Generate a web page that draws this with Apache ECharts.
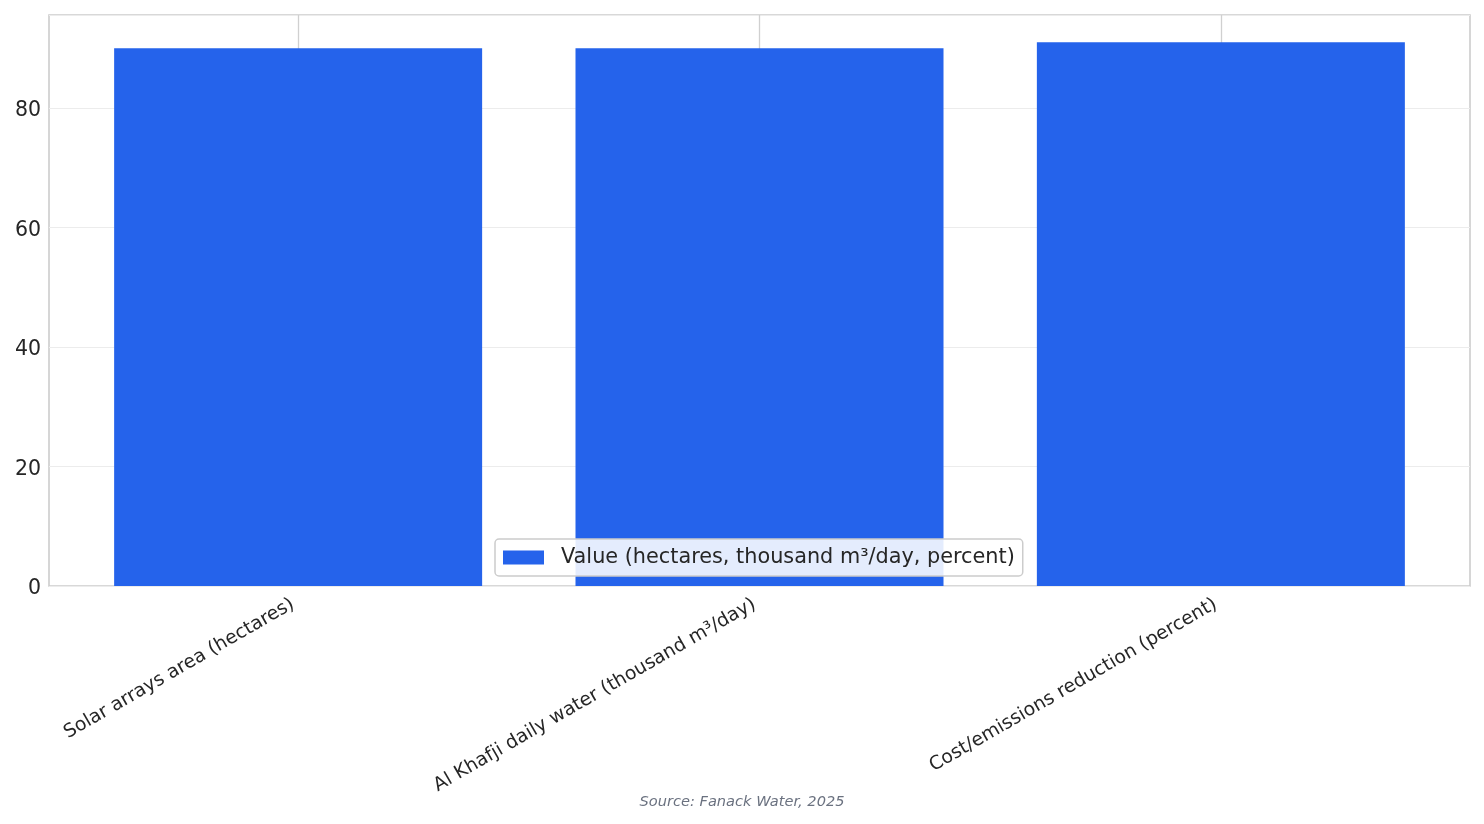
<!DOCTYPE html>
<html>
<head>
<meta charset="utf-8">
<script src="https://cdn.jsdelivr.net/npm/echarts@6/dist/echarts.min.js"></script>
<style>
html,body{margin:0;padding:0;background:#fff;}
#chart{width:1484px;height:824px;}
</style>
</head>
<body>
<div id="chart"></div>
<script>
const categories = [
  'Solar arrays area (hectares)',
  'Al Khafji daily water (thousand m³/day)',
  'Cost/emissions reduction (percent)'
];
const values = [90, 90, 91];
const seriesName = 'Value (hectares, thousand m³/day, percent)';
const yTicks = [0, 20, 40, 60, 80];
const sourceText = 'Source: Fanack Water, 2025';

const positions = categories.map((c, i) => i);
const yMax = Math.max(...values) * 1.05;

const chart = echarts.init(document.getElementById('chart'));
const font = 'DejaVu Sans';
chart.setOption({
  animation: false,
  backgroundColor: '#fff',
  textStyle: { fontFamily: font },
  grid: {
    left: 49, top: 15, width: 1421, height: 571,
    show: true, borderColor: '#cccccc', borderWidth: 1.6, backgroundColor: 'transparent'
  },
  xAxis: {
    type: 'value',
    min: -0.54, max: 2.54,
    axisLine: { show: false },
    axisTick: { show: false, customValues: positions },
    splitLine: { show: true, lineStyle: { color: '#d0d0d0', width: 1.3 } },
    axisLabel: {
      customValues: positions,
      rotate: 30,
      margin: 14,
      padding: [0, 6, 0, 0],
      fontSize: 18.8,
      color: '#262626',
      fontFamily: font,
      formatter: v => categories[Math.round(v)]
    }
  },
  yAxis: {
    type: 'value',
    min: 0, max: yMax, interval: 20,
    axisLine: { show: false },
    axisTick: { show: false },
    splitLine: { show: true, lineStyle: { color: '#ececec', width: 1.2 } },
    axisLabel: {
      fontSize: 20.5, color: '#262626', margin: 8, fontFamily: font,
      verticalAlign: 'top', lineHeight: 6,
      showMaxLabel: false,
      formatter: v => (yTicks.indexOf(v) >= 0 ? String(v) : '')
    }
  },
  legend: {
    left: 495, top: 539,
    itemWidth: 41, itemHeight: 14,
    padding: [8, 8, 8, 8],
    itemGap: 10,
    backgroundColor: 'rgba(255,255,255,0.88)',
    borderColor: '#cccccc', borderWidth: 1.5, borderRadius: 4,
    textStyle: { fontSize: 20.8, color: '#262626', fontFamily: font, padding: [0, 0, 0, 12] },
    data: [{ name: seriesName, icon: 'rect' }]
  },
  title: {
    text: sourceText,
    left: 'center', top: 790,
    textStyle: { fontSize: 14.6, fontStyle: 'italic', fontWeight: 'normal', color: '#6b7280', fontFamily: font }
  },
  series: [{
    name: seriesName,
    type: 'bar',
    barWidth: 368,
    itemStyle: { color: '#2563eb' },
    data: positions.map((p, i) => [p, values[i]])
  }]
});
</script>
</body>
</html>
